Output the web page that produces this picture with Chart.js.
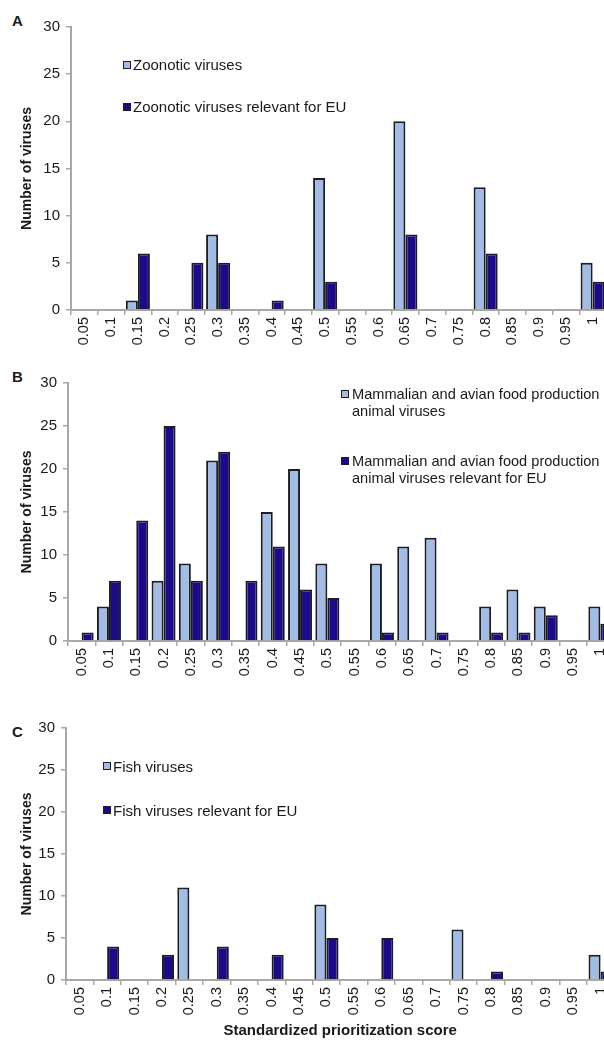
<!DOCTYPE html>
<html lang="en">
<head>
    <meta charset="UTF-8">
    <title>Standardized prioritization score of viruses</title>
    <script src="https://cdn.jsdelivr.net/npm/chart.js"></script>
    <style>
        html, body { margin: 0; padding: 0; background: #fff; }
        body { width: 604px; height: 1040px; overflow: hidden; position: relative;
               font-family: "Liberation Sans", Arial, sans-serif; color: #1a1a1a; }
        canvas { position: absolute; left: 0; }
        .letter { position: absolute; left: 12px; font-weight: bold; font-size: 15px; line-height: 16px; }
        .leg { position: absolute; font-size: 15px; line-height: 17px; white-space: nowrap; }
        .legB { font-size: 14.6px; }
        .box { position: absolute; width: 6px; height: 6px; border: 1px solid #1e1e1e; }
    </style>
</head>
<body>
    <div class="letter" style="top:13px">A</div>
    <div class="letter" style="top:369px">B</div>
    <div class="letter" style="top:724px">C</div>

    <canvas id="chartA" width="620" height="350" style="top:0"></canvas>
    <canvas id="chartB" width="620" height="340" style="top:350px"></canvas>
    <canvas id="chartC" width="620" height="350" style="top:690px"></canvas>

    <!-- legends -->
    <div class="box" style="left:123px;top:61px;background:#a3bce6"></div>
    <div class="leg" style="left:133px;top:56px">Zoonotic viruses</div>
    <div class="box" style="left:123px;top:103px;background:#1c0a8c"></div>
    <div class="leg" style="left:133px;top:98px">Zoonotic viruses relevant for EU</div>

    <div class="box" style="left:341px;top:390px;background:#a3bce6"></div>
    <div class="leg legB" style="left:352px;top:386px">Mammalian and avian food production<br>animal viruses</div>
    <div class="box" style="left:341px;top:457px;background:#1c0a8c"></div>
    <div class="leg legB" style="left:352px;top:453px">Mammalian and avian food production<br>animal viruses relevant for EU</div>

    <div class="box" style="left:103px;top:762px;background:#a3bce6"></div>
    <div class="leg" style="left:113px;top:758px">Fish viruses</div>
    <div class="box" style="left:103px;top:806px;background:#1c0a8c"></div>
    <div class="leg" style="left:113px;top:802px">Fish viruses relevant for EU</div>

    <script>
        const scores = ["0.05", "0.1", "0.15", "0.2", "0.25", "0.3", "0.35", "0.4", "0.45", "0.5",
                        "0.55", "0.6", "0.65", "0.7", "0.75", "0.8", "0.85", "0.9", "0.95", "1"];
        const yTicks = [0, 5, 10, 15, 20, 25, 30];

        // A - zoonotic
        const zoonotic      = [0, 0, 1, 0, 0, 8, 0, 0, 0, 14, 0, 0, 20, 0, 0, 13, 0, 0, 0, 5];
        const zoonoticEU    = [0, 0, 6, 0, 5, 5, 0, 1, 0, 3, 0, 0, 8, 0, 0, 6, 0, 0, 0, 3];
        // B - mammalian and avian food production animals
        const foodAnimal    = [0, 4, 0, 7, 9, 21, 0, 15, 20, 9, 0, 9, 11, 12, 0, 4, 6, 4, 0, 4];
        const foodAnimalEU  = [1, 7, 14, 25, 7, 22, 7, 11, 6, 5, 0, 1, 0, 1, 0, 1, 1, 3, 0, 2];
        // C - fish
        const fish          = [0, 0, 0, 0, 11, 0, 0, 0, 0, 9, 0, 0, 0, 0, 6, 0, 0, 0, 0, 3];
        const fishEU        = [0, 4, 0, 3, 0, 4, 0, 3, 0, 5, 0, 5, 0, 0, 0, 1, 0, 0, 0, 1];

        const LIGHT = "#a3bce6";
        const DARK = "#1c0a8c";
        const AXIS = "#a8a8a8";
        const FONT = "'Liberation Sans', Arial, sans-serif";

        function makeChart(id, light, dark, box, showTitle) {
            const ctx = document.getElementById(id).getContext("2d");
            return new Chart(ctx, {
                type: "bar",
                data: {
                    labels: scores,
                    datasets: [
                        { data: light, backgroundColor: LIGHT, borderColor: "#1e1e1e", borderWidth: 2 },
                        { data: dark, backgroundColor: DARK, borderColor: "#1e1e1e", borderWidth: 2 }
                    ]
                },
                options: {
                    responsive: false,
                    animation: false,
                    devicePixelRatio: 1,
                    layout: { padding: { left: 0, right: box.right, top: box.top, bottom: 0 } },
                    datasets: { bar: { categoryPercentage: box.cat, barPercentage: 1 } },
                    plugins: { legend: { display: false }, tooltip: { enabled: false } },
                    scales: {
                        x: {
                            grid: { offset: true, drawOnChartArea: false, color: AXIS, lineWidth: 1.5, tickLength: 5 },
                            border: { color: AXIS, width: 2 },
                            ticks: { maxRotation: 90, minRotation: 90, autoSkip: false, padding: 2,
                                     color: "#1a1a1a", font: { family: FONT, size: 14.5 } },
                            title: { display: showTitle, text: "Standardized prioritization score",
                                     color: "#1a1a1a", padding: 0,
                                     font: { family: FONT, size: 15, weight: "bold" } },
                            afterFit: s => { s.height = box.xh; }
                        },
                        y: {
                            min: 0, max: 30,
                            afterBuildTicks: s => { s.ticks = yTicks.map(v => ({ value: v })); },
                            grid: { drawOnChartArea: false, color: AXIS, lineWidth: 1.5, tickLength: 5 },
                            border: { color: AXIS, width: 2 },
                            ticks: { padding: 6, color: "#1a1a1a", font: { family: FONT, size: 15 } },
                            title: { display: true, text: "Number of viruses", color: "#1a1a1a",
                                     padding: { top: 19, bottom: 0 },
                                     font: { family: FONT, size: 14, weight: "bold" } },
                            afterFit: s => { s.width = box.left; }
                        }
                    }
                }
            });
        }

        makeChart("chartA", zoonotic, zoonoticEU, { left: 71, right: 14, top: 27, xh: 40, cat: 0.9 }, false);
        makeChart("chartB", foodAnimal, foodAnimalEU, { left: 68, right: 6, top: 33, xh: 49, cat: 0.88 }, false);
        makeChart("chartC", fish, fishEU, { left: 66, right: 0, top: 38, xh: 60, cat: 0.88 }, true);
    </script>
</body>
</html>
